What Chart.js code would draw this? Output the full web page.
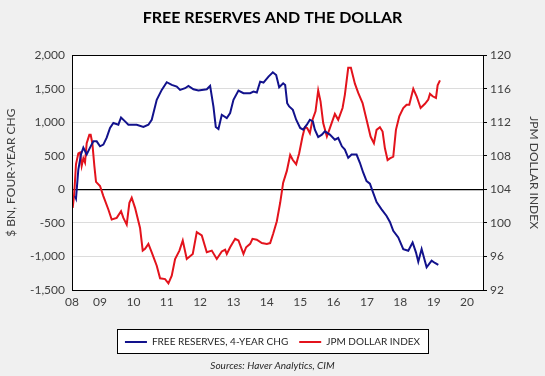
<!DOCTYPE html>
<html>
<head>
<meta charset="utf-8">
<script src="https://cdn.jsdelivr.net/npm/chart.js@4.4.0/dist/chart.umd.min.js"></script>
<style>
  body { margin: 0; background: #f0f0f0; }
  canvas { display: block; }
</style>
</head>
<body>
<canvas id="chart" width="545" height="376"></canvas>
<script>
// Free reserves, 4-year change ($ bn) – dates in decimal years
const reserveDates = [
  2008.25, 2008.28, 2008.35, 2008.43, 2008.50, 2008.60, 2008.70, 2008.80, 2008.90, 2009.00,
  2009.10, 2009.20, 2009.30, 2009.40, 2009.55, 2009.63, 2009.75, 2009.85, 2010.10, 2010.30,
  2010.45, 2010.55, 2010.70, 2010.85, 2011.00, 2011.15, 2011.30, 2011.40, 2011.55, 2011.65,
  2011.80, 2011.95, 2012.20, 2012.30, 2012.40, 2012.47, 2012.55, 2012.65, 2012.80, 2012.90,
  2013.00, 2013.15, 2013.30, 2013.50, 2013.60, 2013.70, 2013.80, 2013.90, 2014.05, 2014.18,
  2014.28, 2014.37, 2014.49, 2014.55, 2014.61, 2014.67, 2014.78, 2014.88, 2015.00, 2015.09,
  2015.20, 2015.29, 2015.38, 2015.44, 2015.54, 2015.65, 2015.74, 2015.89, 2016.04, 2016.14,
  2016.25, 2016.34, 2016.44, 2016.54, 2016.69, 2016.79, 2016.89, 2016.99, 2017.09, 2017.17,
  2017.29, 2017.44, 2017.59, 2017.69, 2017.79, 2017.94, 2018.09, 2018.24, 2018.37, 2018.47,
  2018.54, 2018.64, 2018.79, 2018.94, 2019.04, 2019.14
];
const reserveValues = [
  -99, -135, 296, 519, 622, 519, 622, 716, 716, 642,
  667, 771, 915, 989, 964, 1072, 1013, 964, 964, 930,
  964, 1038, 1335, 1483, 1597, 1557, 1532, 1483, 1508, 1542,
  1493, 1473, 1493, 1542, 1235, 930, 900, 1112, 1063, 1137,
  1335, 1473, 1434, 1434, 1458, 1443, 1606, 1592, 1681, 1746,
  1705, 1523, 1582, 1557, 1285, 1236, 1186, 1038, 915, 890,
  964, 1038, 1013, 890, 781, 816, 865, 816, 741, 766,
  642, 593, 470, 519, 519, 396, 248, 123, 85, -25,
  -188, -297, -396, -485, -618, -716, -890, -915, -791, -939,
  -1078, -890, -1161, -1063, -1097, -1127
];

// JPM dollar index
const dollarDates = [
  2008.18, 2008.22, 2008.25, 2008.28, 2008.35, 2008.40, 2008.45, 2008.50, 2008.55, 2008.60,
  2008.68, 2008.72, 2008.77, 2008.83, 2008.88, 2009.00, 2009.10, 2009.25, 2009.35, 2009.50,
  2009.63, 2009.70, 2009.80, 2009.88, 2009.95, 2010.05, 2010.20, 2010.28, 2010.35, 2010.45,
  2010.55, 2010.70, 2010.80, 2010.95, 2011.05, 2011.15, 2011.25, 2011.38, 2011.48, 2011.60,
  2011.78, 2011.90, 2012.05, 2012.20, 2012.35, 2012.50, 2012.65, 2012.75, 2012.80, 2012.90,
  2013.05, 2013.15, 2013.30, 2013.38, 2013.50, 2013.57, 2013.70, 2013.85, 2014.00, 2014.10,
  2014.19, 2014.30, 2014.40, 2014.49, 2014.60, 2014.70, 2014.78, 2014.88, 2014.97, 2015.07,
  2015.14, 2015.21, 2015.29, 2015.37, 2015.46, 2015.54, 2015.61, 2015.69, 2015.80, 2015.89,
  2016.04, 2016.14, 2016.27, 2016.34, 2016.44, 2016.52, 2016.64, 2016.74, 2016.87, 2016.99,
  2017.11, 2017.21, 2017.29, 2017.39, 2017.47, 2017.54, 2017.62, 2017.69, 2017.79, 2017.87,
  2017.97, 2018.09, 2018.19, 2018.27, 2018.39, 2018.49, 2018.61, 2018.74, 2018.84, 2018.89,
  2018.97, 2019.07, 2019.12, 2019.19
];
const dollarValues = [
  101.8, 103.2, 105.0, 107.0, 108.3, 108.4, 106.8, 107.7, 107.2, 109.5,
  110.5, 110.5, 109.5, 106.8, 104.9, 104.4, 103.2, 101.6, 100.4, 100.6,
  101.4, 100.6, 99.8, 102.4, 103.0, 101.8, 99.4, 96.7, 96.9, 97.5,
  96.5, 94.9, 93.4, 93.3, 92.8, 93.7, 95.7, 96.7, 97.9, 95.7,
  96.3, 98.9, 98.5, 96.5, 96.7, 95.7, 96.6, 96.8, 96.3, 97.1,
  98.1, 97.9, 96.3, 97.1, 97.5, 98.1, 98.0, 97.6, 97.5, 97.6,
  98.7, 100.2, 102.4, 104.8, 106.2, 108.1, 107.5, 107.0, 108.3, 110.3,
  111.4, 111.3, 110.7, 112.3, 113.3, 115.8, 114.5, 111.9, 110.3, 111.3,
  113.0, 112.3, 113.7, 115.3, 118.5, 118.5, 116.6, 115.5, 114.3, 112.3,
  110.3, 109.5, 111.1, 111.4, 110.9, 108.9, 107.5, 107.7, 107.9, 111.1,
  112.7, 113.7, 114.1, 114.1, 116.0, 115.1, 113.7, 114.2, 114.7, 115.4,
  115.1, 114.9, 116.4, 117.0
];

const yearTicks = [2009, 2010, 2011, 2012, 2013, 2014, 2015, 2016, 2017, 2018, 2019, 2020];
const X_MIN = 2008.16, X_MAX = 2020.48;

const BLUE = '#12128c', RED = '#e3131c', TXT = '#404040';
const FONT = 'Lato';

const toPoints = (xs, ys) => xs.map((x, i) => ({ x, y: ys[i] }));

// fond gris, zone de tracé blanche, cadre + boîte de légende
const frame = {
  id: 'frame',
  beforeDraw(chart) {
    const { ctx, chartArea: a, width, height } = chart;
    ctx.save();
    ctx.fillStyle = '#f0f0f0';
    ctx.fillRect(0, 0, width, height);
    ctx.fillStyle = '#fff';
    ctx.fillRect(a.left, a.top, a.right - a.left, a.bottom - a.top);
    const hb = chart.legend.legendHitBoxes;
    if (hb && hb.length) {
      const l = hb[0].left - 8, r = hb[hb.length - 1].left + hb[hb.length - 1].width + 8;
      const t = hb[0].top - 8, b = hb[0].top + hb[0].height + 6;
      chart._legendBox = [l, t, r - l, b - t];
      ctx.fillRect(l, t, r - l, b - t);
    }
    ctx.restore();
  },
  afterDraw(chart) {
    const { ctx, chartArea: a } = chart;
    ctx.save();
    ctx.strokeStyle = '#000';
    ctx.lineWidth = 1;
    ctx.strokeRect(Math.round(a.left) + 0.5, Math.round(a.top) + 0.5, Math.round(a.right - a.left), Math.round(a.bottom - a.top));
    if (chart._legendBox) {
      const [x, y, w, h] = chart._legendBox;
      ctx.strokeRect(Math.round(x) + 0.5, Math.round(y) + 0.5, Math.round(w), Math.round(h));
    }
    ctx.restore();
  }
};

new Chart(document.getElementById('chart'), {
  type: 'line',
  data: {
    datasets: [
      {
        label: 'FREE RESERVES, 4-YEAR CHG',
        data: toPoints(reserveDates, reserveValues),
        borderColor: BLUE, backgroundColor: BLUE,
        borderWidth: 2, pointRadius: 0, yAxisID: 'y'
      },
      {
        label: 'JPM DOLLAR INDEX',
        data: toPoints(dollarDates, dollarValues),
        borderColor: RED, backgroundColor: RED,
        borderWidth: 2, pointRadius: 0, yAxisID: 'y2'
      }
    ]
  },
  options: {
    responsive: false,
    animation: false,
    layout: { padding: { left: 0, right: 0, top: 0, bottom: 2 } },
    plugins: {
      title: {
        display: true,
        text: 'FREE RESERVES AND THE DOLLAR',
        color: '#000',
        font: { family: FONT, size: 16, weight: 'bold' },
        padding: { top: 8, bottom: 28 }
      },
      legend: {
        position: 'bottom',
        labels: {
          usePointStyle: true, pointStyle: 'line', pointStyleWidth: 22,
          color: '#262626', font: { family: FONT, size: 10 }, padding: 11, boxHeight: 8
        }
      },
      subtitle: {
        display: true, position: 'bottom',
        text: 'Sources: Haver Analytics, CIM',
        color: '#262626',
        font: { family: FONT, size: 10, style: 'italic' },
        padding: { top: 3, bottom: 2 }
      },
      tooltip: { enabled: false }
    },
    scales: {
      x: {
        type: 'linear', min: X_MIN, max: X_MAX,
        afterBuildTicks: s => { s.ticks = [{ value: X_MIN }, ...yearTicks.map(v => ({ value: v }))]; },
        ticks: {
          color: TXT, font: { family: FONT, size: 12 }, padding: 5, maxRotation: 0, autoSkip: false,
          callback: v => String(Math.floor(v) % 100).padStart(2, '0')
        },
        grid: { display: false, drawTicks: false },
        border: { color: '#000' },
        afterFit: s => { s.height = 36; }
      },
      y: {
        position: 'left', min: -1500, max: 2000,
        ticks: { stepSize: 500, color: TXT, font: { family: FONT, size: 12 }, padding: 7,
                 callback: v => v.toLocaleString('en-US') },
        grid: { color: c => c.tick.value === 0 ? '#000' : '#dcdcdc', lineWidth: c => c.tick.value === 0 ? 1.3 : 1, drawTicks: false },
        border: { display: false },
        title: { display: true, text: '$ BN, FOUR-YEAR CHG', color: TXT, font: { family: FONT, size: 12 }, padding: { top: 4, bottom: 4 } },
        afterFit: s => { s.width = 72; }
      },
      y2: {
        position: 'right', min: 92, max: 120,
        ticks: { stepSize: 4, color: TXT, font: { family: FONT, size: 12 }, padding: 3 },
        grid: { drawOnChartArea: false, tickLength: 4, color: '#000' },
        border: { display: false },
        title: { display: true, text: 'JPM DOLLAR INDEX', color: TXT, font: { family: FONT, size: 12 }, padding: { top: 4, bottom: 0 } },
        afterFit: s => { s.width = 62; }
      }
    }
  },
  plugins: [frame]
});
</script>
</body>
</html>
